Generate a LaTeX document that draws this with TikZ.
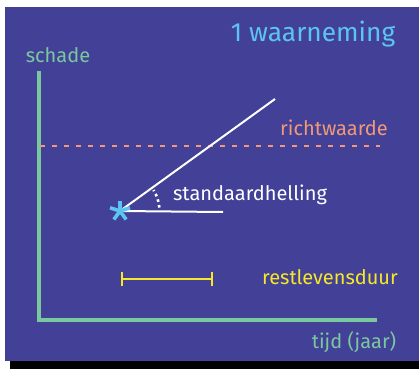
\documentclass[tikz,border=0pt]{standalone}
\usepackage{fontspec}
\setmainfont{Fira Sans}
\definecolor{panel}{RGB}{66,65,151}
\definecolor{axisgreen}{RGB}{122,200,158}
\definecolor{titleblue}{RGB}{92,196,240}
\definecolor{salmon}{RGB}{242,152,120}
\definecolor{lifeyellow}{RGB}{246,232,40}
\tikzset{
  lbl/.style={inner sep=0pt, font=\fontsize{20}{22}\selectfont},
  axisline/.style={draw=axisgreen, line width=4pt},
  starline/.style={draw=titleblue, line width=3.6pt},
}
\begin{document}
\begin{tikzpicture}[x=1pt,y=-1pt]
\useasboundingbox (0,0) rectangle (419,369);
% panel with its drop shadow
\fill[black] (10,355) rectangle (419,369);
\fill[panel] (5,7) rectangle (419,361);
% title
\node[lbl, text=titleblue, font=\fontsize{26.3}{28}\selectfont] (title) at (313,34) {1 waarneming};
% axes
\coordinate (top) at (39,71);
\coordinate (origin) at (39,320);
\coordinate (right) at (377,320);
\draw[axisline, line cap=butt] (top) -- (origin) -- (right);
\node[lbl, text=axisgreen] (ylab) at (58,55) {schade};
\node[lbl, text=axisgreen] (xlab) at (354,342) {tijd (jaar)};
% threshold
\coordinate (rwL) at (40,146);
\coordinate (rwR) at (380,146);
\draw[salmon, line width=2pt, dash pattern=on 5pt off 7pt] (rwL) -- (rwR);
\node[lbl, text=salmon] (rw) at (334,128) {richtwaarde};
% slope from the observation
\coordinate (p) at (120,211);
\coordinate (slopeEnd) at (275,99);
\coordinate (hEnd) at (223,212);
\draw[white, line width=2pt] (p) -- (slopeEnd);
\draw[white, line width=2pt] (p) -- (hEnd);
\draw[white, line width=2.6pt, dash pattern=on 2.6pt off 3.2pt] ([shift={(-5:39.5)}]p) arc[start angle=-5, end angle=-32, radius=39.5];
\node[lbl, text=white] (sh) at (250,195) {standaardhelling};
% observation marker: five-armed asterisk
\node[inner sep=0pt, minimum size=20pt] (obs) at (120,211) {};
\foreach \a in {-90,-18,54,126,198}
  \draw[starline] (obs.center) -- ++(\a:10.5);
% remaining life
\coordinate (rlL) at (122,279);
\coordinate (rlR) at (212,279);
\draw[lifeyellow, line width=2pt] (rlL) -- (rlR);
\draw[lifeyellow, line width=2pt] ([yshift=-7]rlL) -- ([yshift=7]rlL);
\draw[lifeyellow, line width=2pt] ([yshift=-7]rlR) -- ([yshift=7]rlR);
\node[lbl, text=lifeyellow] (rl) at (330,277) {restlevensduur};
\end{tikzpicture}
\end{document}
